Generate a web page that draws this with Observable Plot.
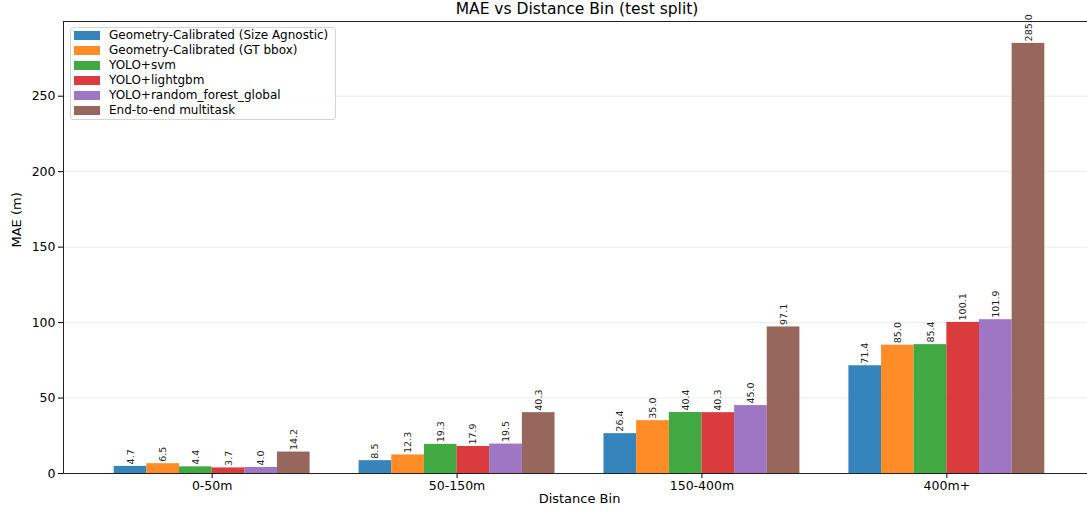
<!DOCTYPE html>
<html>
<head>
<meta charset="utf-8">
<script src="https://cdn.jsdelivr.net/npm/d3@7"></script>
<script src="https://cdn.jsdelivr.net/npm/@observablehq/plot@0.6"></script>
<style>
  html, body { margin: 0; padding: 0; background: #fff; }
  #wrap { position: relative; width: 1087px; height: 512px; overflow: hidden; font-family: "DejaVu Sans", sans-serif; }
  #title { position: absolute; top: 0px; left: 63px; width: 1028px; text-align: center; font-size: 15.5px; line-height: 19px; color: #000; z-index: 2; }
  #legend { position: absolute; left: 70px; top: 27px; width: 264px; height: 91px; border: 1px solid #d5d5d5; border-radius: 3px; background: rgba(255,255,255,0.85); z-index: 2; }
  .row { position: absolute; left: 0; height: 15px; line-height: 15px; font-size: 12px; color: #000; white-space: nowrap; }
  .sw { position: absolute; left: 3px; top: 3px; width: 26px; height: 9px; opacity: 0.9; }
  .lab { position: absolute; left: 38px; top: 0; }
</style>
</head>
<body>
<div id="wrap">
  <div id="title">MAE vs Distance Bin (test split)</div>
  <div id="legend"></div>
</div>
<script>
// ---- data ----
const bins = ["0-50m", "50-150m", "150-400m", "400m+"];
const methods = [
  "Geometry-Calibrated (Size Agnostic)",
  "Geometry-Calibrated (GT bbox)",
  "YOLO+svm",
  "YOLO+lightgbm",
  "YOLO+random_forest_global",
  "End-to-end multitask"
];
const geoSizeAgnostic = [4.7, 8.5, 26.4, 71.4];
const geoGtBbox       = [6.5, 12.3, 35.0, 85.0];
const yoloSvm         = [4.4, 19.3, 40.4, 85.4];
const yoloLightgbm    = [3.7, 17.9, 40.3, 100.1];
const yoloRandomForest= [4.0, 19.5, 45.0, 101.9];
const endToEnd        = [14.2, 40.3, 97.1, 285.0];
const seriesValues = [geoSizeAgnostic, geoGtBbox, yoloSvm, yoloLightgbm, yoloRandomForest, endToEnd];
const colors = ["#1f77b4", "#ff7f0e", "#2ca02c", "#d62728", "#9467bd", "#8c564b"];
const yTicks = [0, 50, 100, 150, 200, 250];
const xTicks = [0, 1, 2, 3];

// ---- table (grouped bars, width 0.8 / number of series) ----
const w = 0.8 / methods.length;
const table = [];
methods.forEach((m, i) => {
  seriesValues[i].forEach((v, j) => {
    table.push({
      bin: bins[j], method: m, value: v,
      x1: j + (i - methods.length / 2) * w,
      x2: j + (i - methods.length / 2 + 1) * w,
      xc: j + (i - methods.length / 2 + 0.5) * w
    });
  });
});

const chart = Plot.plot({
  width: 1087,
  height: 512,
  marginTop: 21,
  marginBottom: 39,
  marginLeft: 63,
  marginRight: -8,
  style: { fontFamily: "DejaVu Sans, sans-serif", fontSize: "12px", color: "#000", background: "#fff" },
  x: { domain: [-0.607, 3.607] },
  y: { domain: [0, 299.5] },
  color: { domain: methods, range: colors },
  marks: [
    Plot.gridY(yTicks, { stroke: "#b0b0b0", strokeOpacity: 0.3, strokeWidth: 0.8 }),
    Plot.rect(table, { x1: "x1", x2: "x2", y1: 0, y2: "value", fill: "method", fillOpacity: 0.9 }),
    Plot.text(table, { x: "xc", y: "value", text: d => d.value.toFixed(1), rotate: -90, textAnchor: "start", dy: -2, fontSize: 9.5, fill: "#222" }),
    Plot.frame({ stroke: "#222", strokeWidth: 1 }),
    Plot.axisY(yTicks, { tickSize: 5, tickPadding: 3, label: null, fontSize: 12.5 }),
    Plot.axisX(xTicks, { tickSize: 5, tickPadding: 3, tickFormat: i => bins[i], label: null, fontSize: 12.5 }),
    Plot.text(["Distance Bin"], { text: d => d, frameAnchor: "bottom", dy: 29, fontSize: 13 }),
    Plot.text(["MAE (m)"], { text: d => d, frameAnchor: "left", dx: -47, rotate: -90, fontSize: 13 })
  ]
});
document.getElementById("wrap").appendChild(chart);

// ---- legend ----
const legend = document.getElementById("legend");
methods.forEach((m, i) => {
  const row = document.createElement("div");
  row.className = "row";
  row.style.top = (15 * i) + "px";
  const sw = document.createElement("span");
  sw.className = "sw";
  sw.style.background = colors[i];
  const lab = document.createElement("span");
  lab.className = "lab";
  lab.textContent = m;
  row.appendChild(sw);
  row.appendChild(lab);
  legend.appendChild(row);
});
</script>
</body>
</html>
